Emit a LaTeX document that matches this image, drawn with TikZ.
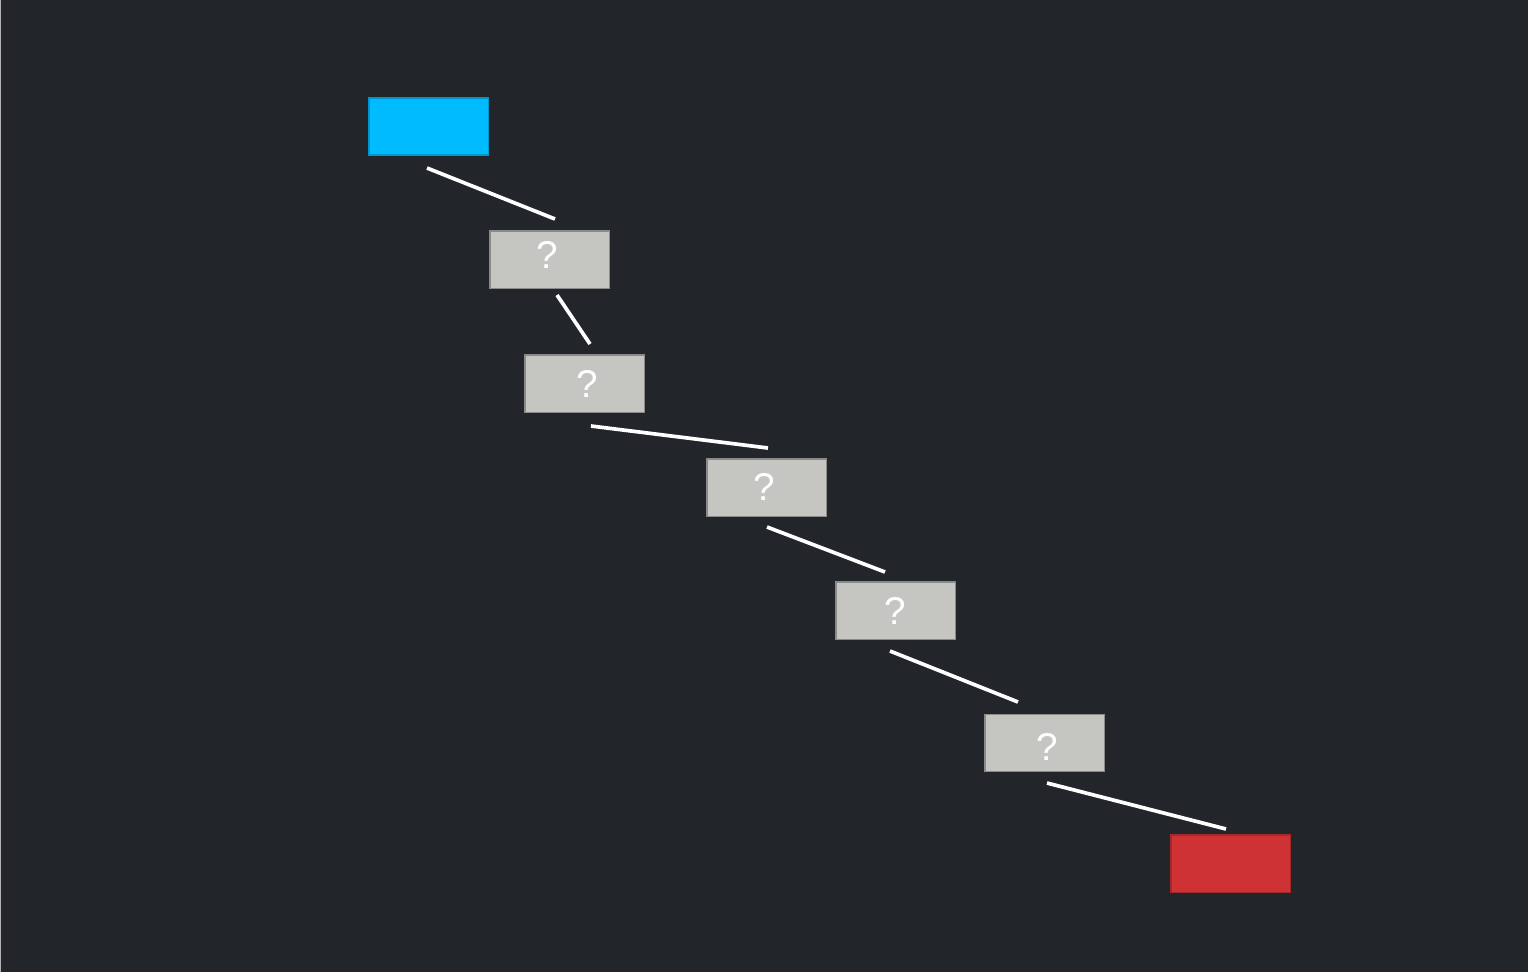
\documentclass[tikz,border=0pt]{standalone}
\usepackage{fontspec}
\setmainfont{Liberation Sans}
\definecolor{bgc}{HTML}{22252A}
\definecolor{bluec}{HTML}{00BBFF}
\definecolor{redc}{HTML}{CF3234}
\definecolor{grayc}{HTML}{C5C5C2}
\definecolor{grayb}{HTML}{8A8A88}
\begin{document}
\begin{tikzpicture}[x=0.01cm,y=-0.01cm,
  box/.style={rectangle, minimum width=1.19cm, minimum height=0.57cm, inner sep=0pt, line width=0.3pt},
  qbox/.style={box, fill=grayc, draw=grayb},
  qmark/.style={text=white, inner sep=0pt, font=\fontsize{11}{12}\selectfont},
  link/.style={draw=white, line width=1.05pt}]
\fill[bgc] (0,0) rectangle (1528,972);
\useasboundingbox (0,0) rectangle (1528,972);
\draw[draw=gray!60, line width=0.3pt] (0.5,0) -- (0.5,972);
\node[box, fill=bluec, draw=bluec!80!black] (start) at (428.5,126.5) {};
\node[qbox] (q1) at (549.5,259.5) {};
\node[qbox] (q2) at (584.5,383.5) {};
\node[qbox] (q3) at (766.5,487.5) {};
\node[qbox] (q4) at (895.5,610.5) {};
\node[qbox] (q5) at (1044.5,743) {};
\node[box, fill=redc, draw=redc!80!black] (goal) at (1230.5,863.5) {};
\node[qmark] (t1) at (547.5,255) {?};
\node[qmark] (t2) at (587,384) {?};
\node[qmark] (t3) at (764.5,487) {?};
\node[qmark] (t4) at (895.5,611) {?};
\node[qmark] (t5) at (1047.5,747) {?};
\coordinate (a1) at (427,168); \coordinate (b1) at (555,219);
\coordinate (a2) at (557,295); \coordinate (b2) at (590,344);
\coordinate (a3) at (591,426); \coordinate (b3) at (768,448);
\coordinate (a4) at (767,527); \coordinate (b4) at (885,572);
\coordinate (a5) at (890,651); \coordinate (b5) at (1018,702);
\coordinate (a6) at (1047,783); \coordinate (b6) at (1226,829);
\draw[link] (a1) -- (b1);
\draw[link] (a2) -- (b2);
\draw[link] (a3) -- (b3);
\draw[link] (a4) -- (b4);
\draw[link] (a5) -- (b5);
\draw[link] (a6) -- (b6);
\end{tikzpicture}
\end{document}
